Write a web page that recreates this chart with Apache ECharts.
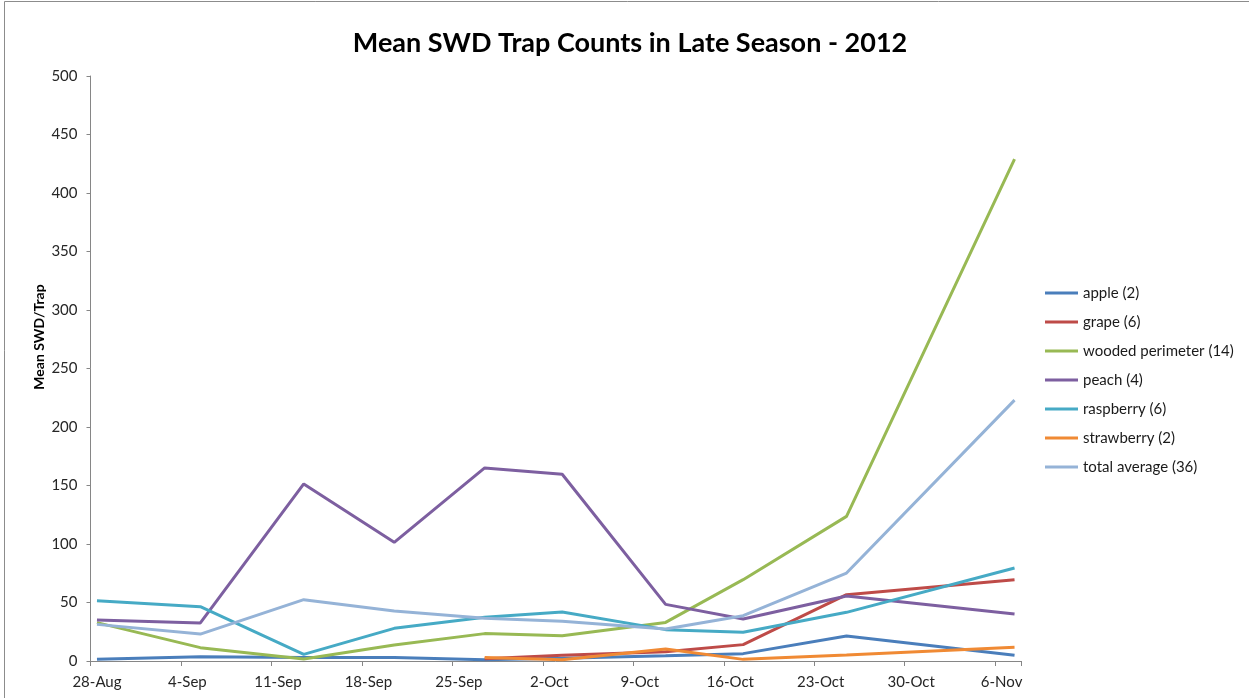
<!DOCTYPE html>
<html>
<head>
<meta charset="utf-8">
<title>Mean SWD Trap Counts in Late Season - 2012</title>
<script src="https://cdn.jsdelivr.net/npm/echarts@6/dist/echarts.min.js"></script>
<style>
  html, body { margin: 0; padding: 0; background: #ffffff; }
  #chart { width: 1249px; height: 698px; }
</style>
</head>
<body>
<div id="chart"></div>
<script>
// Trap check dates (2012)
const sampleDates = ['2012-08-28', '2012-09-05', '2012-09-13', '2012-09-20', '2012-09-27',
                     '2012-10-03', '2012-10-11', '2012-10-17', '2012-10-25', '2012-11-07'];

// Mean SWD per trap for each site type (null = not trapped yet)
const apple      = [1.4, 3.7, 3.0, 2.9, 1.1, 2.3, 4.5, 6.3, 21.4, 4.9];
const grape      = [null, null, null, null, 2.0, 5.0, 8.0, 14.0, 56.7, 69.5];
const wooded     = [32.8, 11.4, 1.7, 13.7, 23.4, 21.6, 33.0, 69.5, 123.6, 429.0];
const peach      = [35.0, 32.5, 151.3, 101.4, 165.0, 159.6, 48.4, 35.9, 55.6, 40.2];
const raspberry  = [51.5, 46.4, 5.7, 27.9, 37.3, 41.9, 26.8, 24.5, 41.6, 79.5];
const strawberry = [null, null, null, null, 3.0, 1.1, 10.3, 1.4, 5.1, 11.7];
const totalAvg   = [31.3, 23.0, 52.4, 42.7, 36.5, 33.9, 27.4, 38.7, 75.2, 223.0];

const seriesNames = ['apple (2)', 'grape (6)', 'wooded perimeter (14)', 'peach (4)',
                     'raspberry (6)', 'strawberry (2)', 'total average (36)'];
const seriesValues = [apple, grape, wooded, peach, raspberry, strawberry, totalAvg];
const seriesColors = ['#4a7ebb', '#be4b48', '#98b954', '#7d5fa0', '#46aac5', '#f08a34', '#95b3d7'];

// Axis range: one category per day, 28-Aug through 7-Nov
const axisStart = '2012-08-28';
const axisEnd = '2012-11-07';
const monthNames = ['Jan', 'Feb', 'Mar', 'Apr', 'May', 'Jun', 'Jul', 'Aug', 'Sep', 'Oct', 'Nov', 'Dec'];

function dayLabel(d) {
  return d.getUTCDate() + '-' + monthNames[d.getUTCMonth()];
}
function parseDay(s) {
  return new Date(s + 'T00:00:00Z');
}

const days = [];
for (let d = parseDay(axisStart); d <= parseDay(axisEnd); d = new Date(d.getTime() + 86400000)) {
  days.push(dayLabel(d));
}

const FONT = 'Lato, "Open Sans", sans-serif';
const axisGray = '#868686';

const series = seriesNames.map((name, i) => ({
  name: name,
  type: 'line',
  symbol: 'none',
  connectNulls: true,
  lineStyle: { width: 3, color: seriesColors[i] },
  itemStyle: { color: seriesColors[i] },
  emphasis: { disabled: true },
  data: sampleDates
    .map((s, k) => [dayLabel(parseDay(s)), seriesValues[i][k]])
    .filter(p => p[1] !== null)
}));

const chart = echarts.init(document.getElementById('chart'), null, { renderer: 'canvas' });

chart.setOption({
  backgroundColor: '#ffffff',
  animation: false,
  grid: { left: 90.5, right: 228, top: 76, bottom: 37, containLabel: false },
  xAxis: {
    type: 'category',
    data: days,
    boundaryGap: true,
    axisLine: { show: true, lineStyle: { color: axisGray, width: 1 } },
    axisTick: { show: true, interval: 6, length: 5, lineStyle: { color: axisGray } },
    axisLabel: {
      interval: 6,
      margin: 14,
      color: '#262626',
      fontFamily: FONT,
      fontSize: 15
    },
    splitLine: { show: false }
  },
  yAxis: {
    type: 'value',
    min: 0,
    max: 500,
    interval: 50,
    axisLine: { show: true, lineStyle: { color: axisGray, width: 1 } },
    axisTick: { show: true, length: 4, lineStyle: { color: axisGray } },
    axisLabel: {
      margin: 13,
      color: '#262626',
      fontFamily: FONT,
      fontSize: 15
    },
    splitLine: { show: false }
  },
  legend: {
    orient: 'vertical',
    left: 1045,
    top: 285,
    padding: 0,
    icon: 'rect',
    itemWidth: 33,
    itemHeight: 3,
    itemGap: 13,
    selectedMode: false,
    data: seriesNames,
    textStyle: { fontFamily: FONT, fontSize: 15, lineHeight: 16, color: '#1a1a1a' }
  },
  graphic: [
    {
      type: 'rect',
      silent: true,
      shape: { x: 4.5, y: 1.5, width: 1400, height: 1000 },
      style: { fill: 'none', stroke: '#8c8c8c', lineWidth: 1 }
    },
    {
      type: 'text',
      silent: true,
      x: 630,
      y: 43,
      style: {
        text: 'Mean SWD Trap Counts in Late Season - 2012',
        fontFamily: FONT,
        fontWeight: 'bold',
        fontSize: 27,
        fill: '#000000',
        align: 'center',
        verticalAlign: 'middle'
      }
    },
    {
      type: 'text',
      silent: true,
      x: 39,
      y: 337,
      rotation: Math.PI / 2,
      style: {
        text: 'Mean SWD/Trap',
        fontFamily: FONT,
        fontWeight: 'bold',
        fontSize: 14,
        fill: '#000000',
        align: 'center',
        verticalAlign: 'middle'
      }
    }
  ],
  series: series
});
</script>
</body>
</html>
